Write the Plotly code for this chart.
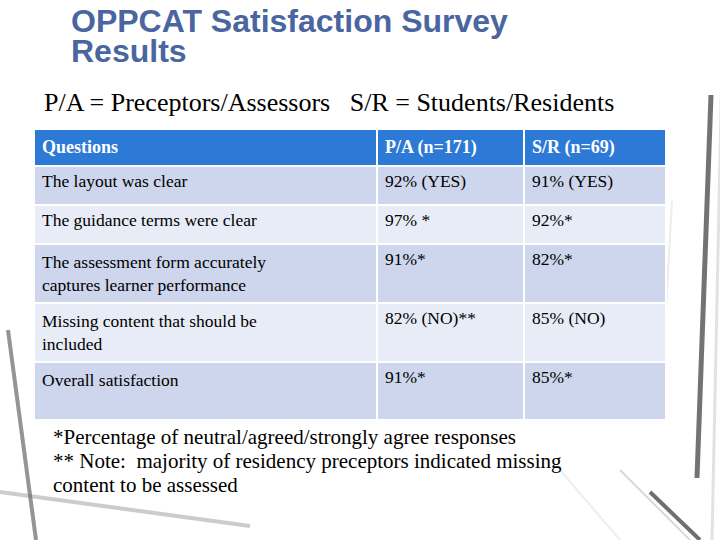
import plotly.graph_objects as go

title_lines = ["OPPCAT Satisfaction Survey", "Results"]
subtitle = "P/A = Preceptors/Assessors   S/R = Students/Residents"
headers = ["Questions", "P/A (n=171)", "S/R (n=69)"]
questions = [
    "The layout was clear",
    "The guidance terms were clear",
    "The assessment form accurately<br>captures learner performance",
    "Missing content that should be<br>included",
    "Overall satisfaction<br> ",
]
pa_values = ["92% (YES)", "97% *", "91%*", "82% (NO)**", "91%*"]
sr_values = ["91% (YES)", "92%*", "82%*", "85% (NO)", "85%*"]
footnotes = [
    "*Percentage of neutral/agreed/strongly agree responses",
    "** Note:  majority of residency preceptors indicated missing",
    "content to be assessed",
]

W, H = 720, 540
SERIF = "Liberation Serif, serif"
dark = "#cdd6ec"
light = "#e8ecf6"
row_colors = [dark if i % 2 == 0 else light for i in range(len(questions))]

fig = go.Figure(go.Table(
    domain=dict(x=[34 / W, 666 / W], y=[0.0, 1 - 129 / H]),
    columnwidth=[343, 147, 142],
    header=dict(
        values=["<b>%s</b>" % h for h in headers],
        fill_color="#2d7ad6",
        line=dict(color="white", width=2),
        font=dict(family=SERIF, size=18, color="white"),
        align="left",
        height=37,
    ),
    cells=dict(
        values=[questions, pa_values, sr_values],
        fill_color=[row_colors] * 3,
        line=dict(color="white", width=2),
        font=dict(family=SERIF, size=17.5, color="black"),
        align="left",
        height=39,
    ),
))

annotations = [
    dict(x=69, y=21, text=title_lines[0], font=dict(family="Liberation Sans", size=32, color="#4a66a0")),
    dict(x=69, y=51, text=title_lines[1], font=dict(family="Liberation Sans", size=32, color="#4a66a0")),
    dict(x=42, y=102, text=subtitle, font=dict(family=SERIF, size=26, color="black")),
]
for i, t in enumerate(footnotes):
    annotations.append(dict(x=51, y=437 + 24 * i, text=t,
                            font=dict(family=SERIF, size=21, color="black")))
for a in annotations:
    a.update(xref="paper", yref="paper", xanchor="left", yanchor="middle", showarrow=False)
    a["x"] = a["x"] / W
    a["y"] = 1 - a["y"] / H
    if a["text"] in title_lines:
        a["text"] = "<b>%s</b>" % a["text"]

# decorative background strokes (slide theme)
deco = [
    ((711, 95), (697, 478), "rgba(80,80,80,0.8)", 5),
    ((722, 60), (712, 540), "rgba(190,190,190,0.45)", 3),
    ((8, 330), (36, 540), "rgba(60,60,60,0.55)", 4),
    ((0, 492), (250, 526), "rgba(110,110,110,0.35)", 4),
    ((650, 492), (700, 540), "rgba(50,50,50,0.7)", 4),
    ((620, 470), (690, 540), "rgba(160,160,160,0.4)", 2),
    ((560, 470), (620, 540), "rgba(200,200,200,0.3)", 2),
    ((672, 200), (660, 420), "rgba(210,210,210,0.4)", 2),
]
shapes = []
for (x0, y0), (x1, y1), col, w in deco:
    shapes.append(dict(type="line", xref="paper", yref="paper",
                       x0=x0 / W, y0=1 - y0 / H, x1=x1 / W, y1=1 - y1 / H,
                       line=dict(color=col, width=w), layer="below"))

fig.update_layout(
    width=W, height=H,
    margin=dict(l=0, r=0, t=0, b=0),
    paper_bgcolor="white",
    plot_bgcolor="white",
    annotations=annotations,
    shapes=shapes,
)
fig.write_html("out.html", config={"displayModeBar": False},
               post_script="document.body.style.margin='0';")
